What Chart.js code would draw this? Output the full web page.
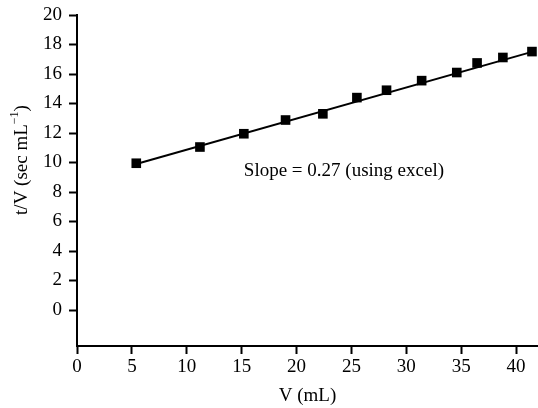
<!DOCTYPE html>
<html>
<head>
<meta charset="utf-8">
<script src="https://cdn.jsdelivr.net/npm/chart.js@4/dist/chart.umd.min.js"></script>
<style>
  html, body { margin: 0; padding: 0; background: #fff; }
  #wrap { width: 538px; height: 408px; position: relative; }
</style>
</head>
<body>
<div id="wrap"><canvas id="c" width="538" height="408"></canvas></div>
<script>
// Data
const volumeML = [5.4, 11.2, 15.2, 19.0, 22.4, 25.5, 28.2, 31.4, 34.6, 36.45, 38.8, 41.45];
const tOverV   = [9.95, 11.05, 11.95, 12.88, 13.3, 14.4, 14.9, 15.55, 16.1, 16.75, 17.12, 17.52];
const fitX = [5.4, 41.45];
const fitY = [9.9, 17.5];
const xTicks = [0, 5, 10, 15, 20, 25, 30, 35, 40];
const yTicks = [0, 2, 4, 6, 8, 10, 12, 14, 16, 18, 20];
const xTitle = 'V (mL)';
const yTitleMain = 't/V (sec mL';
const yTitleSup = '\u22121';
const yTitleEnd = ')';
const note = 'Slope = 0.27 (using excel)';

const FONT = '"Liberation Serif", "Times New Roman", serif';
const FS = 19;

const pts = volumeML.map((x, i) => ({ x: x, y: tOverV[i] }));
const fit = fitX.map((x, i) => ({ x: x, y: fitY[i] }));

const textPlugin = {
  id: 'texts',
  afterDraw(chart) {
    const ctx = chart.ctx;
    const xs = chart.scales.x, ys = chart.scales.y;
    ctx.save();
    ctx.fillStyle = '#000';
    // annotation
    ctx.font = FS + 'px ' + FONT;
    ctx.textAlign = 'left';
    ctx.textBaseline = 'middle';
    ctx.fillText(note, xs.getPixelForValue(15.2), ys.getPixelForValue(9.4));
    // y title with superscript
    ctx.translate(21, 160);
    ctx.rotate(-Math.PI / 2);
    const mainF = FS + 'px ' + FONT, supF = '12px ' + FONT;
    ctx.font = mainF;
    const w1 = ctx.measureText(yTitleMain).width;
    ctx.font = supF;
    const w2 = ctx.measureText(yTitleSup).width;
    ctx.font = mainF;
    const w3 = ctx.measureText(yTitleEnd).width;
    const total = w1 + w2 + w3;
    const x0 = -total / 2;
    ctx.textAlign = 'left';
    ctx.textBaseline = 'alphabetic';
    ctx.fillText(yTitleMain, x0, 6);
    ctx.font = supF;
    ctx.fillText(yTitleSup, x0 + w1, -3);
    ctx.font = mainF;
    ctx.fillText(yTitleEnd, x0 + w1 + w2, 6);
    ctx.restore();
  }
};

new Chart(document.getElementById('c'), {
  type: 'scatter',
  data: {
    datasets: [
      {
        type: 'line',
        data: fit,
        borderColor: '#000',
        borderWidth: 2,
        pointRadius: 0,
        fill: false,
        order: 2
      },
      {
        data: pts,
        pointStyle: 'rect',
        pointRadius: 6.8,
        pointHoverRadius: 6.8,
        backgroundColor: '#000',
        borderColor: '#000',
        borderWidth: 0,
        order: 1
      }
    ]
  },
  options: {
    responsive: false,
    animation: false,
    events: [],
    layout: { autoPadding: false, padding: { top: 15, right: 0, bottom: 0, left: 0 } },
    plugins: { legend: { display: false }, tooltip: { enabled: false } },
    scales: {
      x: {
        type: 'linear',
        min: 0,
        max: 42,
        afterBuildTicks(s) { s.ticks = xTicks.map(v => ({ value: v })); },
        afterFit(s) { s.height = 62; s.paddingRight = 0; s.paddingLeft = 0; },
        border: { display: true, color: '#000', width: 2 },
        grid: { display: true, drawOnChartArea: false, drawTicks: true, tickLength: 8, tickColor: '#000', tickWidth: 2 },
        ticks: { color: '#000', font: { family: FONT, size: FS }, padding: 2, maxRotation: 0, autoSkip: false },
        title: { display: true, text: xTitle, color: '#000', font: { family: FONT, size: FS }, padding: { top: 0, bottom: 1 } }
      },
      y: {
        type: 'linear',
        min: -2.44,
        max: 20,
        afterBuildTicks(s) { s.ticks = yTicks.map(v => ({ value: v })); },
        afterFit(s) { s.width = 77; s.paddingTop = 0; s.paddingBottom = 0; },
        border: { display: true, color: '#000', width: 2 },
        grid: { display: true, drawOnChartArea: false, drawTicks: true, tickLength: 8, tickColor: '#000', tickWidth: 2 },
        ticks: { color: '#000', font: { family: FONT, size: FS }, padding: 7, autoSkip: false }
      }
    }
  },
  plugins: [textPlugin]
});
</script>
</body>
</html>
